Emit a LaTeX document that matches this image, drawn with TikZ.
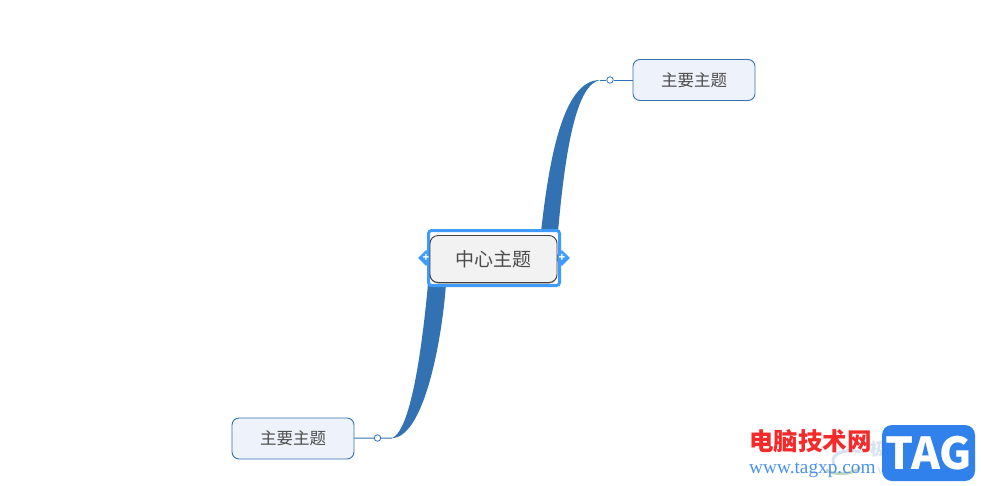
\documentclass[tikz,border=0pt]{standalone}
\usepackage{fontspec}
\usepackage{tikz}
\usetikzlibrary{shapes.geometric}
\setmainfont{Noto Sans CJK SC}
\newfontfamily\urlfont{Liberation Serif}
\definecolor{ribbonblue}{HTML}{3272B2}
\definecolor{selectblue}{HTML}{3F9BFF}
\definecolor{topicfill}{HTML}{EEF3FB}
\definecolor{tagblue}{HTML}{2A7DEB}
\definecolor{faintblue}{HTML}{D5E2F0}
\definecolor{sitered}{HTML}{F52A2A}
\tikzset{
  topicbox/.style={draw=ribbonblue, fill=topicfill, rounded corners=7pt, line width=.9pt, minimum width=122pt, minimum height=41pt, inner sep=0pt, text=black!70, font=\fontsize{16.500}{18}\selectfont},
  joint/.style={circle, draw=ribbonblue, fill=white, line width=.8pt, minimum size=6.500pt, inner sep=0pt},
  handle/.style={diamond, fill=selectblue, minimum size=16pt, inner sep=0pt, text=white, font=\bfseries\fontsize{11}{11}\selectfont},
}
\begin{document}
\begin{tikzpicture}[x=1pt, y=-1pt]
  \useasboundingbox (0,0) rectangle (981,485);
  % ribbons
  \coordinate (upperend) at (600,80);
  \coordinate (lowerend) at (392,438);
  \fill [ribbonblue] (541,232) .. controls (550,150) and (565,80) .. (upperend) .. controls (578,84) and (566,140) .. (558,232) -- cycle;
  \fill [ribbonblue] (446,284) .. controls (441,350) and (422,438) .. (lowerend) .. controls (408,432) and (420,370) .. (428,284) -- cycle;
  % topics
  \node [topicbox] (upper) at (694,80) {主要主题};
  \node [topicbox] (lower) at (293,438.5) {主要主题};
  \node [joint] (upperjoint) at (610,80) {};
  \node [joint] (lowerjoint) at (377.500,438) {};
  \draw [ribbonblue, line width=1pt] (upperend) -- (upperjoint) -- (upper);
  \draw [ribbonblue, line width=1pt] (lower) -- (lowerjoint) -- (lowerend);
  % central topic
  \node [draw=selectblue, fill=white, line width=3pt, rounded corners=3pt, minimum width=131pt, minimum height=55pt] (frame) at (494,258) {};
  \node [handle] (lefthandle) at (426,258) {+};
  \node [handle] (righthandle) at (562,258) {+};
  \node [fill=black!45, rounded corners=8pt, minimum width=127pt, minimum height=47pt] (centreshadow) at (493.500,260) {};
  \node [draw=black!75, fill=black!5, line width=.9pt, rounded corners=8pt, minimum width=127pt, minimum height=47pt, inner sep=0pt, text=black!70, font=\fontsize{19}{21}\selectfont] (centre) at (493.500,259) {中心主题};
  % watermark
  \draw [faintblue, line width=3pt] (860,452) arc (60:200:18pt and 10pt);
  \draw [green!35!black!25, line width=3pt] (826,470) arc (220:340:20pt and 10pt);
  \node [text=faintblue, font=\bfseries\fontsize{17}{18}\selectfont, anchor=west, inner sep=0pt] (faint) at (870,449) {极光下载站};
  \node [text=faintblue, font=\urlfont\fontsize{14}{15}\selectfont, anchor=west, inner sep=0pt] (fainturl) at (877,470) {www.xz7.com};
  \node [text=sitered, font=\bfseries\fontsize{24.500}{26}\selectfont, anchor=west, inner sep=0pt] (site) at (749,441) {电脑技术网};
  \node [text=tagblue!85, font=\urlfont\fontsize{19.300}{21}\selectfont, anchor=west, inner sep=0pt] (url) at (749,470) {www.tagxp.com};
  \node [fill=tagblue, fill opacity=.97, text opacity=1, rounded corners=10pt, minimum width=93pt, minimum height=56pt, inner sep=0pt, text=white, font=\bfseries\fontsize{44}{46}\selectfont] (tag) at (928.500,453) {TAG};
\end{tikzpicture}
\end{document}
